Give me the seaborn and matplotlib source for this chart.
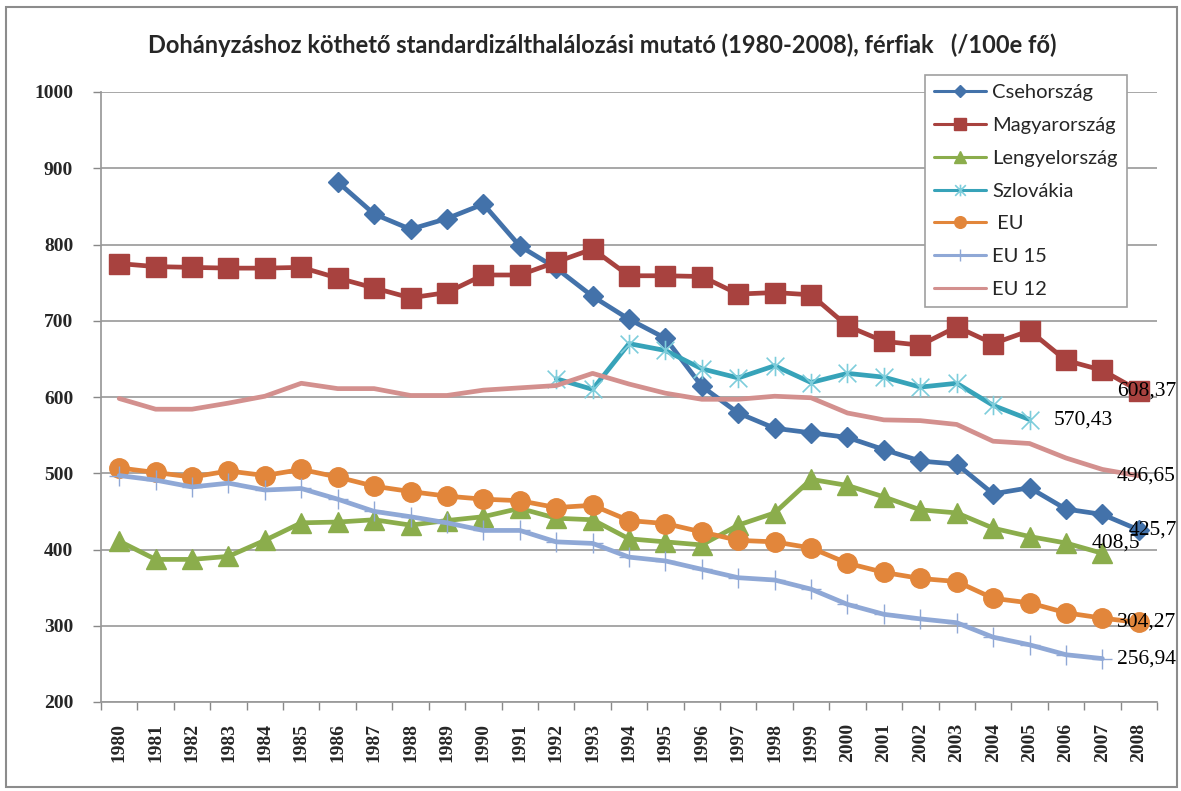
import numpy as np
import seaborn as sns
import matplotlib.pyplot as plt
from matplotlib.path import Path
from matplotlib.patches import Rectangle

nan = np.nan

# Years on the x axis
years = list(range(1980, 2009))

# Series values (per 100 000 males)
cseh = [nan, nan, nan, nan, nan, nan,
        882, 840, 820, 834, 853, 798, 769, 732, 702, 677,
        614, 579, 559, 553, 547, 531, 516, 512, 473, 481,
        453, 446, 425.7]
magyar = [775, 771, 770, 769, 769, 770,
          756, 743, 730, 737, 760, 760, 777, 794, 759, 759,
          758, 735, 737, 734, 693, 673, 668, 692, 670, 687,
          648, 635, 608.37]
lengyel = [411, 387, 387, 391, 412, 435,
           436, 439, 432, 438, 443, 454, 441, 439, 414, 410,
           406, 432, 448, 492, 484, 469, 452, 448, 428, 417,
           408.5, 395, nan]
szlovakia = [nan] * 12 + [624, 610, 670, 661, 637, 625, 641, 619, 631, 626,
                          613, 618, 589, 570.43] + [nan] * 3
eu = [507, 501, 495, 503, 497, 505,
      495, 483, 476, 470, 466, 464, 455, 458, 438, 434,
      423, 412, 410, 402, 382, 370, 362, 358, 336, 330,
      317, 310, 304.27]
eu15 = [497, 491, 482, 487, 478, 480,
        466, 450, 443, 435, 425, 425, 410, 408, 390, 385,
        374, 363, 360, 348, 328, 315, 309, 304, 285, 275,
        262, 256.94, nan]
eu12 = [598, 584, 584, 592, 601, 618,
        611, 611, 602, 602, 609, 612, 615, 631, 617, 605,
        597, 597, 601, 599, 579, 570, 569, 564, 542, 539,
        520, 505, 496.65]

# Data labels: (text, year, value)
end_labels = [("608,37", 2008, 608.37), ("570,43", 2005, 570.43),
              ("496,65", 2008, 496.65), ("425,7", 2008, 425.7),
              ("408,5", 2006, 408.5), ("304,27", 2008, 304.27),
              ("256,94", 2007, 256.94)]

sns.set_theme(style="white")
plt.rcParams['font.family'] = ['Lato', 'DejaVu Sans']

# Excel style star marker (x plus vertical line)
star = Path([(-1, -1), (1, 1), (-1, 1), (1, -1), (0, -1.1), (0, 1.1)],
            [Path.MOVETO, Path.LINETO, Path.MOVETO, Path.LINETO, Path.MOVETO, Path.LINETO])

fig = plt.figure(figsize=(11.81, 7.91), dpi=100)
ax = fig.add_axes([101 / 1181, 1 - 702 / 791, (1157 - 101) / 1181, (702 - 92) / 791])

# Series styles
series = [
    ("Csehország", cseh, dict(color="#4372AA", marker="D", markersize=10, mec="#4372AA", mew=1)),
    ("Magyarország", magyar, dict(color="#A8423F", marker="s", markersize=14, mec="#A8423F", mew=1)),
    ("Lengyelország", lengyel, dict(color="#8BAD4C", marker="^", markersize=14, mec="#8BAD4C", mew=1)),
    ("Szlovákia", szlovakia, dict(color="#37A3B9", marker=star, markersize=14, mec="#7DCDDB", mfc="none", mew=1.2)),
    (" EU", eu, dict(color="#E2863B", marker="o", markersize=14, mec="#E2863B", mew=1)),
    ("EU 15", eu15, dict(color="#8FA8D6", marker="+", markersize=14, mec="#8FA8D6", mew=1)),
    ("EU 12", eu12, dict(color="#D3908E", marker=None)),
]

for name, vals, style in series:
    sns.lineplot(x=years, y=vals, ax=ax, label=name, lw=3.4, **style)

# Data labels at line ends
offsets = {"608,37": -22, "570,43": 24, "496,65": -22, "425,7": -10,
           "408,5": 26, "304,27": -22, "256,94": 15}
for txt, yr, val in end_labels:
    ax.annotate(txt, xy=(yr, val), xytext=(offsets[txt], 0), textcoords="offset pixels",
                ha="left", va="center", fontsize=15.5, family="Liberation Serif", color="black")

# Axes limits and ticks
ax.set_xlim(1979.5, 2008.5)
ax.set_ylim(200, 1000)
ax.set_yticks(range(200, 1001, 100))
ax.set_xticks(years)
ax.set_xticklabels([str(y) for y in years], rotation=90)
ax.set_xticks(np.arange(1979.5, 2009, 1), minor=True)
ax.tick_params(axis="x", which="major", length=0, pad=15)
ax.tick_params(axis="x", which="minor", length=6, width=1, color="#888888", direction="out", bottom=True)
ax.tick_params(axis="y", length=6, width=1, color="#888888", direction="out", left=True, pad=14)
for lab in ax.get_xticklabels() + ax.get_yticklabels():
    lab.set_family("Liberation Serif")
    lab.set_fontweight("bold")
    lab.set_fontsize(14)

ax.set_xlabel("")
ax.set_ylabel("")

# Gridlines and spines
ax.yaxis.grid(True, color="#A0A0A0", lw=1.3)
ax.xaxis.grid(False)
ax.spines['top'].set_visible(False)
ax.spines['right'].set_visible(False)
ax.spines['left'].set_color("#999999")
ax.spines['bottom'].set_color("#999999")

# Title
fig.text(602 / 1181, 1 - 45 / 791, "Dohányzáshoz köthető standardizálthalálozási mutató (1980-2008), férfiak   (/100e fő)",
         ha="center", va="center", fontsize=17, fontweight="bold")

# Legend
leg = ax.legend(loc="upper left", bbox_to_anchor=(925 / 1181, 1 - 75 / 791), bbox_transform=fig.transFigure,
                borderaxespad=0, frameon=True, fancybox=False, edgecolor="#A0A0A0", framealpha=1,
                fontsize=14.5, handlelength=2.6, handletextpad=0.3, labelspacing=0.78, borderpad=0.45)
leg.get_frame().set_linewidth(1.2)
for h in leg.legend_handles:
    h.set_linewidth(2.2)
    h.set_markersize(h.get_markersize() * 0.6)

# Outer chart border
fig.patches.append(Rectangle((6 / 1181, 4 / 791), 1171 / 1181, 780 / 791, transform=fig.transFigure,
                             fill=False, edgecolor="#8C8C8C", lw=1.5))

plt.savefig("out.png", dpi=100)
